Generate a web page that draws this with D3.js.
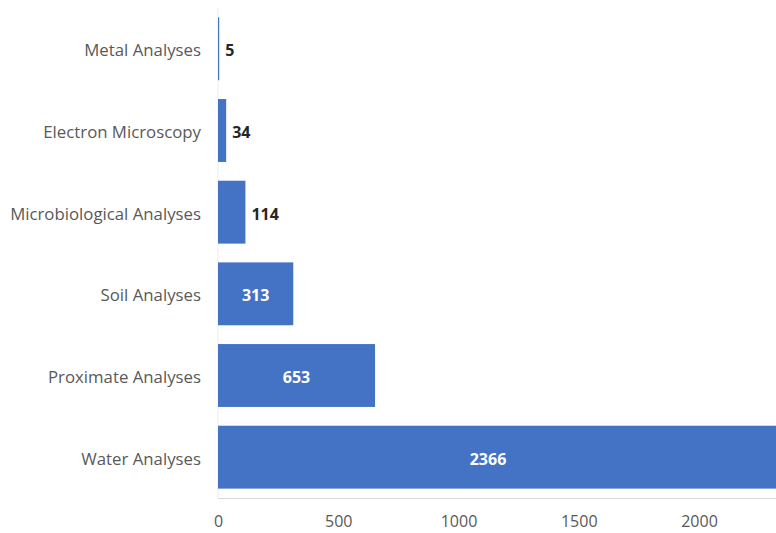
<!DOCTYPE html>
<html>
<head>
<meta charset="utf-8">
<script src="https://cdn.jsdelivr.net/npm/d3@7"></script>
<style>
  html, body { margin: 0; padding: 0; background: #ffffff; }
  svg { display: block; }
</style>
</head>
<body>
<svg id="chart" width="776" height="533"></svg>
<script>
// Number of analyses by type
const categories = [
  "Metal Analyses",
  "Electron Microscopy",
  "Microbiological Analyses",
  "Soil Analyses",
  "Proximate Analyses",
  "Water Analyses"
];
const counts = [5, 34, 114, 313, 653, 2366];
const tickValues = [0, 500, 1000, 1500, 2000];

const W = 776, H = 533;
const margin = { top: 8, left: 218, bottom: 35 };
const labelRight = 758;   // inside labels are centred on the part of the bar before this edge
const barColor = "#4472C4";
const font = "'Open Sans', 'Liberation Sans', sans-serif";

const svg = d3.select("#chart");

const x = d3.scaleLinear().domain([0, 2000]).range([margin.left, margin.left + 481]);
const y = d3.scaleBand()
  .domain(categories)
  .range([margin.top, H - margin.bottom])
  .paddingInner(0.23)
  .paddingOuter(0.115);

const data = categories.map((c, i) => ({ cat: c, value: counts[i] }));

// plot-area clip so the longest bar runs off the right edge
svg.append("defs").append("clipPath").attr("id", "plot")
  .append("rect")
  .attr("x", margin.left).attr("y", 0)
  .attr("width", W - margin.left).attr("height", H);

// faint value axis line
svg.append("line")
  .attr("x1", x(0)).attr("x2", x(0))
  .attr("y1", margin.top).attr("y2", H - margin.bottom)
  .attr("stroke", "#ececec").attr("stroke-width", 1);

// bars
svg.append("g").attr("clip-path", "url(#plot)")
  .selectAll("rect").data(data).join("rect")
  .attr("x", x(0))
  .attr("y", d => y(d.cat))
  .attr("width", d => x(d.value) - x(0))
  .attr("height", y.bandwidth())
  .attr("fill", barColor);

// bottom baseline
svg.append("line")
  .attr("x1", x(0)).attr("x2", W)
  .attr("y1", H - margin.bottom + 0.5).attr("y2", H - margin.bottom + 0.5)
  .attr("stroke", "#d9d9d9").attr("stroke-width", 1);

// x axis tick labels
const xAxis = d3.axisBottom(x).tickValues(tickValues).tickFormat(d3.format("d"))
  .tickSize(0).tickPadding(15);
const gx = svg.append("g")
  .attr("transform", `translate(0,${H - margin.bottom + 3})`)
  .call(xAxis);
gx.select(".domain").remove();
gx.selectAll("text")
  .attr("font-family", font).attr("font-size", 16).attr("fill", "#595959");

// category labels
const yAxis = d3.axisLeft(y).tickSize(0).tickPadding(17);
const gy = svg.append("g")
  .attr("transform", `translate(${x(0)},2)`)
  .call(yAxis);
gy.select(".domain").remove();
gy.selectAll("text")
  .attr("font-family", font).attr("font-size", 16.8).attr("fill", "#595959");

// value labels: inside (white) for wide bars, outside (dark) for narrow ones
const inside = d => x(d.value) - x(0) > 50;
svg.append("g").selectAll("text").data(data).join("text")
  .attr("x", d => inside(d)
    ? (x(0) + Math.min(x(d.value), labelRight)) / 2
    : x(d.value) + 6)
  .attr("y", d => y(d.cat) + y.bandwidth() / 2 + 2)
  .attr("dy", "0.35em")
  .attr("text-anchor", d => inside(d) ? "middle" : "start")
  .attr("font-family", font).attr("font-size", 16).attr("font-weight", "bold")
  .attr("fill", d => inside(d) ? "#ffffff" : "#262626")
  .text(d => d.value);
</script>
</body>
</html>
